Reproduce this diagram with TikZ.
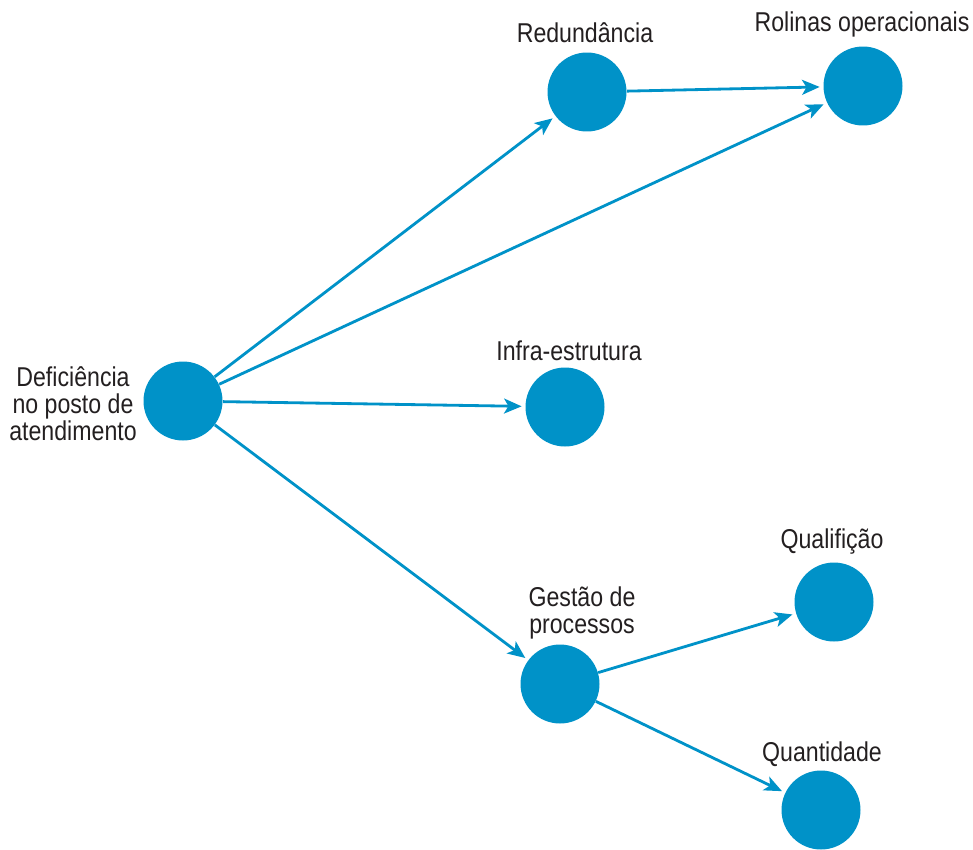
\documentclass[tikz,border=0pt]{standalone}
\usepackage{fontspec}
\setmainfont{Liberation Sans}[FakeStretch=0.85]
\usetikzlibrary{arrows.meta}
\definecolor{azul}{HTML}{0092C8}
\definecolor{texto}{HTML}{231F20}
\tikzset{
	bola/.style={circle, fill=azul, minimum size=1.58cm, inner sep=0},
	rotulo/.style={text=texto, font=\fontsize{15.5}{15.4}\selectfont, align=center, inner sep=0},
	seta/.style={azul, line width=1.6pt, -{Stealth[length=10pt, width=8.5pt, inset=2.5pt]}, shorten >=2pt}
}
\begin{document}
\begin{tikzpicture}[x=0.02cm, y=-0.02cm]
	\useasboundingbox (0,0) rectangle (973,849);

	\node [bola] (def) at (183,401) {};
	\node [bola] (red) at (587,92) {};
	\node [bola] (rol) at (863,86) {};
	\node [bola] (inf) at (565,407) {};
	\node [bola] (ges) at (560,684) {};
	\node [bola] (qual) at (834,602) {};
	\node [bola] (quant) at (821,810) {};

	\node [rotulo] (tdef) at (73,404) {Deficiência\\no posto de\\atendimento};
	\node [rotulo] (tred) at (585,33) {Redundância};
	\node [rotulo] (trol) at (862,24) {Rolinas operacionais};
	\node [rotulo] (tinf) at (569,351) {Infra-estrutura};
	\node [rotulo] (tges) at (582,613) {Gestão de\\processos};
	\node [rotulo] (tqual) at (832,542) {Qualifição};
	\node [rotulo] (tquant) at (822,754) {Quantidade};

	\draw [seta] (def) -- (red);
	\draw [seta] (def) -- (rol);
	\draw [seta] (def) -- (inf);
	\draw [seta] (def) -- (ges);
	\draw [seta] (red) -- (rol);
	\draw [seta] (ges) -- (qual);
	\draw [seta] (ges) -- (quant);

\end{tikzpicture}
\end{document}
